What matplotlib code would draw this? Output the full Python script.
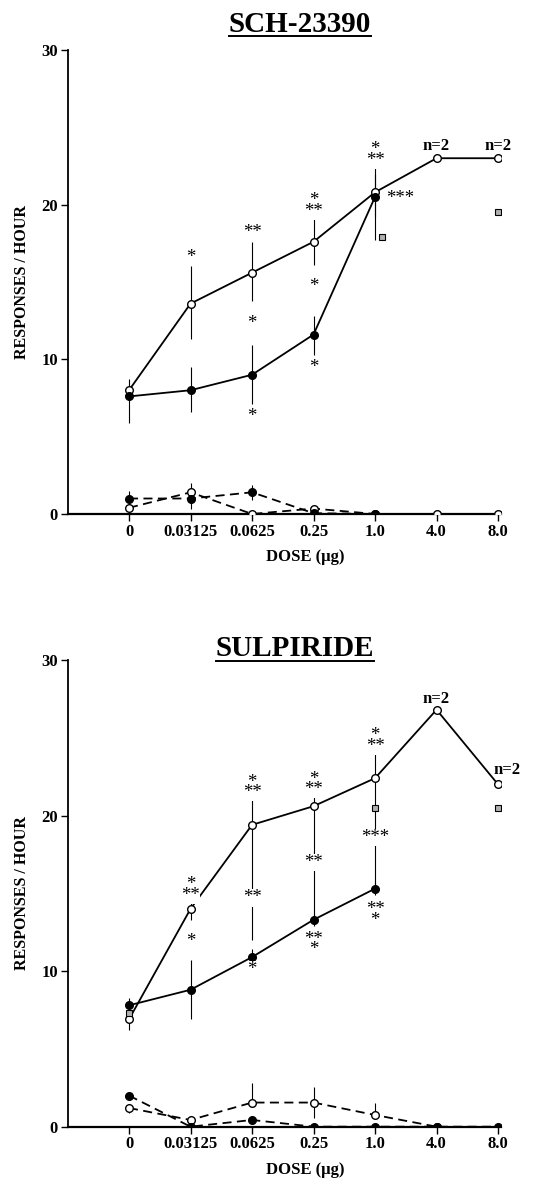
import matplotlib
matplotlib.use('Agg')
import matplotlib.pyplot as plt
import numpy as np

plt.rcParams['font.family'] = ['Liberation Serif', 'DejaVu Serif']
plt.rcParams['font.weight'] = 'bold'

doses = ['0', '0.03125', '0.0625', '0.25', '1.0', '4.0', '8.0']

# SCH-23390 panel
sch_open = [8.0, 13.6, 15.6, 17.6, 20.8, 23.0, 23.0]
sch_open_lo = [0.3, 2.3, 1.8, 1.5, 1.6, 0, 0]
sch_open_hi = [0.7, 2.4, 2.0, 1.6, 1.6, 0, 0]
sch_fill = [7.6, 8.0, 9.0, 11.6, 20.5]
sch_fill_lo = [1.7, 1.4, 1.9, 1.3, 2.8]
sch_fill_hi = [0.5, 1.5, 1.9, 1.2, 1.5]
sch_open_d = [0.4, 1.4, 0.0, 0.35, 0.0, 0.0, 0.0]
sch_open_d_lo = [0.0, 0.3, 0.0, 0.0, 0.0, 0.0, 0.0]
sch_open_d_hi = [0.0, 0.6, 0.0, 0.0, 0.0, 0.0, 0.0]
sch_fill_d = [1.0, 1.0, 1.4, 0.05, 0.0]
sch_fill_d_lo = [0.3, 0.65, 0.5, 0.0, 0.0]
sch_fill_d_hi = [0.5, 0.3, 0.45, 0.0, 0.0]
sch_sq_x = [4.12, 6.0]
sch_sq_y = [17.9, 19.5]
sch_notes = [(1, 16.6, '*'), (2, 18.2, '**'), (2, 12.3, '*'), (2, 6.3, '*'),
             (3, 19.9, '*\n**'), (3, 14.7, '*'), (3, 9.5, '*'),
             (4, 23.2, '*\n**'), (4.4, 20.4, '***'),
             (5, 23.8, 'n=2'), (6, 23.8, 'n=2')]

# SULPIRIDE panel
sul_open = [6.9, 14.0, 19.4, 20.6, 22.4, 26.8, 22.0]
sul_open_lo = [0.7, 0.7, 7.4, 7.3, 7.1, 0, 0]
sul_open_hi = [0.4, 0.8, 1.7, 0.6, 1.6, 0, 0]
sul_fill = [7.8, 8.8, 10.9, 13.3, 15.3]
sul_fill_lo = [0.3, 1.9, 0.3, 0.4, 0.4]
sul_fill_hi = [0.5, 1.9, 0.5, 0.4, 0.4]
sul_open_d = [1.2, 0.43, 1.55, 1.55, 0.75, 0.0]
sul_open_d_lo = [0.3, 0.0, 0.0, 1.0, 0.0, 0.0]
sul_open_d_hi = [0.0, 0.0, 1.25, 1.0, 0.75, 0.0]
sul_fill_d = [2.0, 0.0, 0.43, 0.0, 0.0, 0.0, 0.0]
sul_fill_d_lo = [0.2, 0.0, 0.0, 0.0, 0.0, 0.0, 0.0]
sul_fill_d_hi = [0.2, 0.0, 0.0, 0.0, 0.0, 0.0, 0.0]
sul_sq_x = [0.0, 4.0, 6.0]
sul_sq_y = [7.3, 20.5, 20.5]
sul_notes = [(1, 15.2, '*\n**'), (1, 11.9, '*'),
             (2, 21.8, '*\n**'), (2, 14.7, '**'), (2, 10.1, '*'),
             (3, 22.0, '*\n**'), (3, 17.0, '**'), (3, 11.7, '**\n*'),
             (4, 24.8, '*\n**'), (4, 18.6, '***'), (4, 13.6, '**\n*'),
             (5, 27.5, 'n=2'), (6.15, 22.9, 'n=2')]


def series(ax, y, lo, hi, fill, ls):
    x = np.arange(len(y))
    ax.errorbar(x, y, yerr=[lo, hi], fmt='none', ecolor='black', elinewidth=0.8,
                capsize=0, zorder=2)
    ax.plot(x, y, ls=ls, color='black', lw=1.3, marker='o', ms=5.5,
            mfc='black' if fill else 'white', mec='black', mew=1.0, zorder=3,
            dashes=(5, 3) if ls == '--' else (None, None))


def panel(ax, data, sqx, sqy, notes):
    for y, lo, hi, fill, ls in data:
        series(ax, y, lo, hi, fill, ls)
    ax.plot(sqx, sqy, ls='none', marker='s', ms=4, mfc='#b0b0b0', mec='black',
            mew=0.8, zorder=4)
    for x, y, t in notes:
        if t.startswith('n'):
            ax.text(x, y, t, ha='center', va='center', fontsize=12, fontweight='bold',
                    clip_on=False)
        else:
            ax.text(x, y, t, ha='center', va='center', fontsize=13.5,
                    fontweight='normal', linespacing=0.5,
                    bbox=dict(fc='white', ec='none', pad=0.2), zorder=5)
    ax.set_xlim(-1, 6.05)
    ax.set_ylim(0, 30)
    ax.set_xticks(range(len(doses)))
    ax.set_xticklabels(doses, fontsize=12, fontweight='bold')
    ax.set_yticks([0, 10, 20, 30])
    ax.set_yticklabels(['0', '10', '20', '30'], fontsize=12, fontweight='bold')
    ax.tick_params(direction='out', length=5, width=1.0, pad=2)
    for s in ['top', 'right']:
        ax.spines[s].set_visible(False)
    ax.spines['left'].set_linewidth(1.3)
    ax.spines['bottom'].set_linewidth(1.6)
    ax.set_ylabel('RESPONSES / HOUR', fontsize=11.5, fontweight='bold', labelpad=8)
    ax.set_xlabel('DOSE (\u00b5g)', fontsize=12, fontweight='bold')
    ax.xaxis.set_label_coords(0.548, -0.075)


fig = plt.figure(figsize=(5.35, 11.81), dpi=100)
ax1 = fig.add_axes([0.1262, 0.5648, 0.8105, 0.3929])
ax2 = fig.add_axes([0.1262, 0.0460, 0.8105, 0.3952])

panel(ax1, [(sch_open, sch_open_lo, sch_open_hi, False, '-'),
            (sch_fill, sch_fill_lo, sch_fill_hi, True, '-'),
            (sch_open_d, sch_open_d_lo, sch_open_d_hi, False, '--'),
            (sch_fill_d, sch_fill_d_lo, sch_fill_d_hi, True, '--')],
      sch_sq_x, sch_sq_y, sch_notes)
panel(ax2, [(sul_open, sul_open_lo, sul_open_hi, False, '-'),
            (sul_fill, sul_fill_lo, sul_fill_hi, True, '-'),
            (sul_open_d, sul_open_d_lo, sul_open_d_hi, False, '--'),
            (sul_fill_d, sul_fill_d_lo, sul_fill_d_hi, True, '--')],
      sul_sq_x, sul_sq_y, sul_notes)

# underlined titles
W, H = 535, 1181
titles = [('SCH-23390', 300, 24), ('SULPIRIDE', 295, 649)]
renderer = fig.canvas.get_renderer()
for t, px, py in titles:
    txt = fig.text(px / W, 1 - py / H, t, ha='center', va='center',
                   fontsize=21, fontweight='bold')
    bb = txt.get_window_extent(renderer).transformed(fig.transFigure.inverted())
    fig.add_artist(plt.Line2D([bb.x0, bb.x1], [bb.y0 + 0.001, bb.y0 + 0.001],
                              color='black', lw=1.4, transform=fig.transFigure))

fig.savefig('out.png', dpi=100)
